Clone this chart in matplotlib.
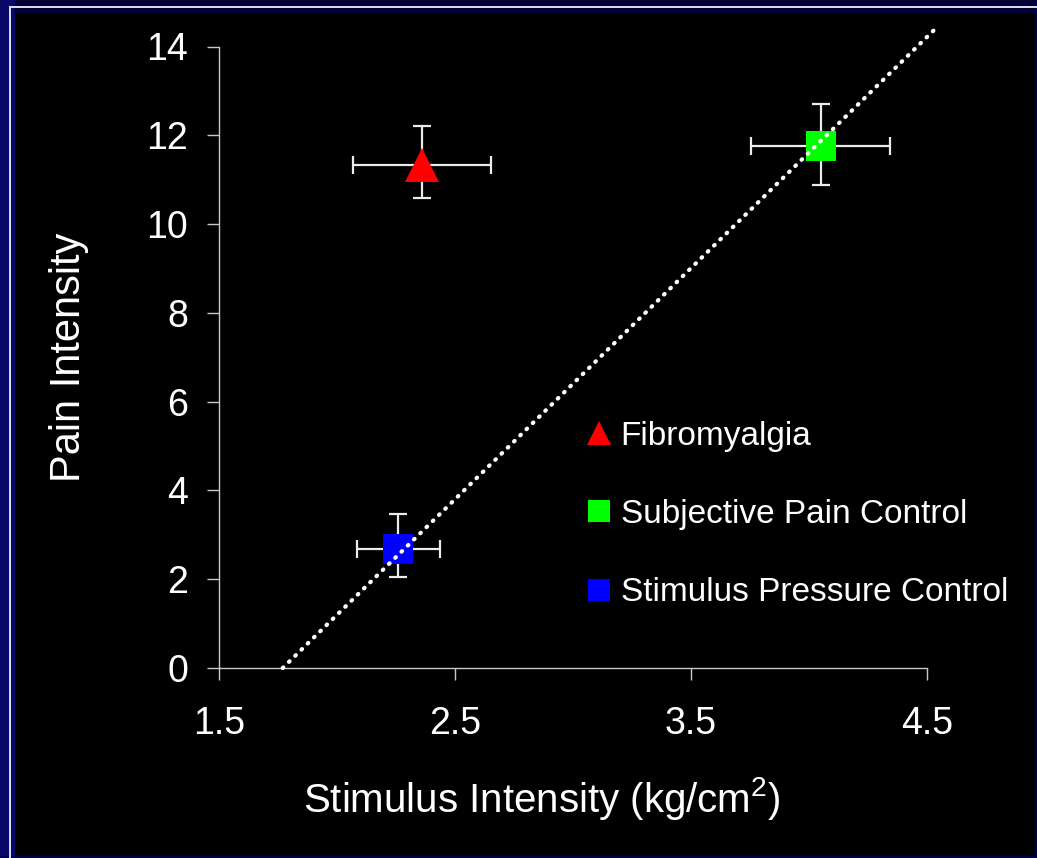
import matplotlib
matplotlib.use('Agg')
import matplotlib.pyplot as plt
from matplotlib.patches import Rectangle

plt.rcParams['font.family'] = ['Liberation Sans', 'DejaVu Sans']
plt.rcParams['mathtext.fontset'] = 'custom'
plt.rcParams['mathtext.rm'] = 'Liberation Sans'
plt.rcParams['mathtext.it'] = 'Liberation Sans'
plt.rcParams['mathtext.default'] = 'regular'

# group means with asymmetric error bars
groups = ['Fibromyalgia', 'Subjective Pain Control', 'Stimulus Pressure Control']
stim = [2.36, 4.05, 2.26]
pain = [11.33, 11.75, 2.69]
stim_err = [0.293, 0.294, 0.175]
pain_err_lo = [0.74, 0.87, 0.65]
pain_err_hi = [0.88, 0.96, 0.77]
markers = ['^', 's', 's']
colors = ['#ff0000', '#00ff00', '#0000ff']
sizes = [23.8, 22.3, 22.3]

# fitted line through the control groups
trend_x = [1.77, 4.547]
trend_y = [0.0, 14.46]

xticks = [1.5, 2.5, 3.5, 4.5]
yticks = [0, 2, 4, 6, 8, 10, 12, 14]

W, H = 1037, 858
fig = plt.figure(figsize=(W / 100, H / 100), dpi=100, facecolor='black')

# slide frame: navy bands with a thin light rule on top and left
navy_top = '#000035'
navy_left = '#08086a'
fig.patches.append(Rectangle((0, 1 - 14 / H), 1, 14 / H, transform=fig.transFigure,
                             facecolor=navy_top, edgecolor='none', zorder=0))
fig.patches.append(Rectangle((0, 0), 15 / W, 1, transform=fig.transFigure,
                             facecolor=navy_left, edgecolor='none', zorder=0))
fig.patches.append(Rectangle((9 / W, 1 - 7.5 / H), 1 - 9 / W, 1.5 / H, transform=fig.transFigure,
                             facecolor='#d8d8e8', edgecolor='none', zorder=1))
fig.patches.append(Rectangle((9 / W, 0), 1.5 / W, 1 - 6 / H, transform=fig.transFigure,
                             facecolor='#d8d8e8', edgecolor='none', zorder=1))
fig.patches.append(Rectangle((0, 0), 1, 2 / H, transform=fig.transFigure,
                             facecolor='#000050', edgecolor='none', zorder=0))
fig.patches.append(Rectangle((1 - 2 / W, 0), 2 / W, 1, transform=fig.transFigure,
                             facecolor='#000050', edgecolor='none', zorder=0))

ax = fig.add_axes([219 / W, 1 - 668 / H, 708 / W, 621.5 / H])
ax.set_facecolor('black')
ax.set_xlim(1.5, 4.5)
ax.set_ylim(0, 14)

for i in range(len(groups)):
    ax.errorbar(stim[i], pain[i], xerr=stim_err[i],
                yerr=[[pain_err_lo[i]], [pain_err_hi[i]]],
                fmt='none', ecolor='#ececec', elinewidth=1.6,
                capsize=6.5, capthick=1.6, zorder=2)
    ax.plot(stim[i], pain[i], linestyle='none', marker=markers[i],
            markersize=sizes[i], color=colors[i], markeredgewidth=0,
            label=groups[i], zorder=3)

ax.plot(trend_x, trend_y, color='white', linewidth=3.0,
        linestyle=(0, (0.2, 1.9)), dash_capstyle='round',
        clip_on=False, zorder=4)

for side in ['top', 'right']:
    ax.spines[side].set_visible(False)
for side in ['left', 'bottom']:
    ax.spines[side].set_color('#c8c8c8')
    ax.spines[side].set_linewidth(1.0)

ax.set_xticks(xticks)
ax.set_xticklabels([str(v) for v in xticks])
ax.set_yticks(yticks)
ax.tick_params(axis='both', colors='#c8c8c8', length=8.6, width=1.0,
               direction='out', labelcolor='white', labelsize=27)
ax.tick_params(axis='x', pad=18.5)
ax.tick_params(axis='y', pad=13.5)

ax.set_xlabel('Stimulus Intensity (kg/cm$^{2}$)', color='white', fontsize=29)
ax.set_ylabel('Pain Intensity', color='white', fontsize=30)
ax.xaxis.set_label_coords(0.456, -0.172)
ax.yaxis.set_label_coords(-0.183, 0.5)

ax.legend(loc='upper left', bbox_to_anchor=(582 / W, 1 - 420.5 / H),
          bbox_transform=fig.transFigure, frameon=False, fontsize=24,
          labelcolor='white', markerscale=0.7, handlelength=1.0,
          handletextpad=0.16, labelspacing=1.42, borderpad=0,
          borderaxespad=0)

fig.savefig('out.png', dpi=100, facecolor='black')
